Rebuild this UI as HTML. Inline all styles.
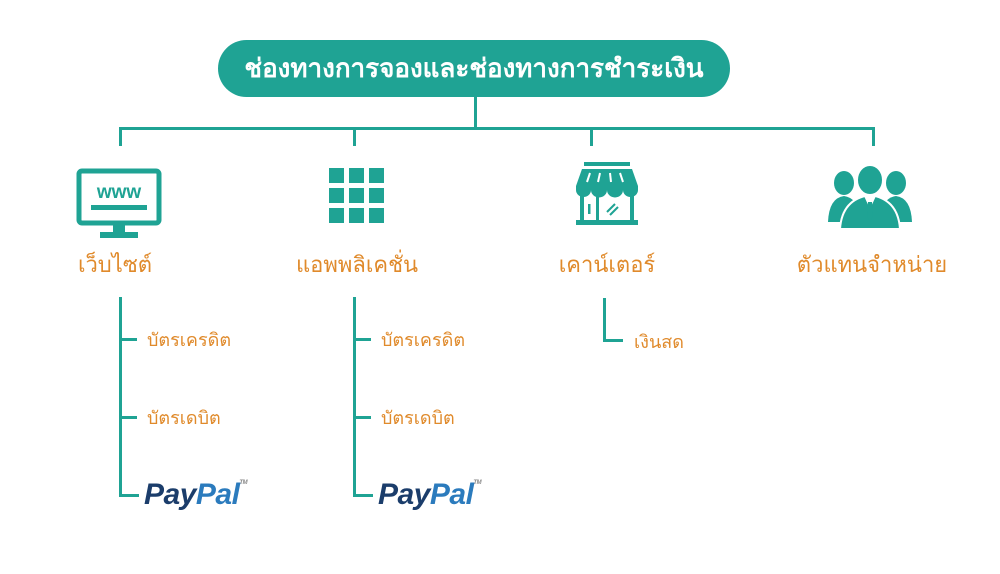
<!DOCTYPE html>
<html><head><meta charset="utf-8"><style>
html,body{margin:0;padding:0;background:#fff;}
body{width:1000px;height:574px;position:relative;overflow:hidden;font-family:"Liberation Sans","Noto Sans CJK SC","WenQuanYi Zen Hei",sans-serif;}
.l{position:absolute;background:#1fa394;}
.t{position:absolute;color:#e08a2b;white-space:nowrap;}
.big{font-size:22px;top:247px;transform:translateX(-50%);}
.sm{font-size:18px;}
.pp{position:absolute;font-family:"Liberation Sans",sans-serif;font-weight:bold;font-style:italic;font-size:30px;letter-spacing:-0.5px;}
.pp .a{color:#1b3d6b}.pp .b{color:#2b7bbd}.pp sup{font-size:6px;color:#888;vertical-align:top;position:relative;top:2px;}
</style></head><body>
<div style="position:absolute;left:218px;top:40px;width:512px;height:57px;border-radius:29px;background:#1fa394;color:#fff;font-weight:bold;font-size:26px;text-align:center;line-height:57px;">ช่องทางการจองและช่องทางการชำระเงิน</div>
<div class="l" style="left:474px;top:97px;width:3px;height:33px"></div>
<div class="l" style="left:119px;top:127px;width:756px;height:3px"></div>
<div class="l" style="left:119px;top:127px;width:3px;height:19px"></div>
<div class="l" style="left:353px;top:127px;width:3px;height:19px"></div>
<div class="l" style="left:590px;top:127px;width:3px;height:19px"></div>
<div class="l" style="left:872px;top:127px;width:3px;height:19px"></div>

<svg style="position:absolute;left:76px;top:168px" width="88" height="72" viewBox="0 0 88 72">
<rect x="3" y="3" width="80" height="52" rx="3" fill="none" stroke="#1fa394" stroke-width="5"/>
<text x="43" y="30" font-family="Liberation Sans" font-weight="bold" font-size="19" fill="#1fa394" text-anchor="middle">www</text>
<rect x="15" y="37" width="56" height="5" fill="#1fa394"/>
<rect x="37" y="55" width="12" height="10" fill="#1fa394"/>
<rect x="24" y="64" width="38" height="6" fill="#1fa394"/>
</svg>
<svg style="position:absolute;left:329px;top:168px" width="56" height="56" viewBox="0 0 56 56" fill="#1fa394">
<rect x="0" y="0" width="15" height="15"/><rect x="20" y="0" width="15" height="15"/><rect x="40" y="0" width="15" height="15"/>
<rect x="0" y="20" width="15" height="15"/><rect x="20" y="20" width="15" height="15"/><rect x="40" y="20" width="15" height="15"/>
<rect x="0" y="40" width="15" height="15"/><rect x="20" y="40" width="15" height="15"/><rect x="40" y="40" width="15" height="15"/>
</svg>
<svg style="position:absolute;left:574px;top:162px" width="66" height="64" viewBox="0 0 66 64" fill="#1fa394">
<rect x="10" y="0" width="46" height="4"/>
<path d="M8 7 H58 L64 24 H2 Z"/>
<path d="M2 24 H64 V28 A7.5 7 0 0 1 49 28 A7.5 7 0 0 1 33 28 A7.5 7 0 0 1 17 28 A7.5 7 0 0 1 2 28 Z"/>
<g stroke="#fff" stroke-width="2"><line x1="16" y1="11" x2="13" y2="20"/><line x1="26" y1="11" x2="24" y2="20"/><line x1="36" y1="11" x2="37" y2="20"/><line x1="46" y1="11" x2="49" y2="20"/></g>
<rect x="6" y="33" width="4" height="27"/><rect x="56" y="33" width="4" height="27"/><rect x="22" y="33" width="3" height="27"/>
<rect x="2" y="58" width="62" height="5"/>
<rect x="14" y="42" width="2.5" height="10"/>
<g stroke="#1fa394" stroke-width="2"><line x1="33" y1="50" x2="41" y2="42"/><line x1="36" y1="53" x2="44" y2="45"/></g>
</svg>
<svg style="position:absolute;left:828px;top:164px" width="84" height="66" viewBox="0 0 84 66" fill="#1fa394">
<ellipse cx="16" cy="19" rx="10" ry="12"/><ellipse cx="68" cy="19" rx="10" ry="12"/>
<path d="M0 58 Q1 34 16 32 Q29 34 31 50 L31 58 Z"/><path d="M84 58 Q83 34 68 32 Q55 34 53 50 L53 58 Z"/>
<ellipse cx="42" cy="16" rx="13" ry="15" stroke="#fff" stroke-width="2"/>
<path d="M12 65 Q14 35 42 31 Q70 35 72 65 Z" stroke="#fff" stroke-width="2"/>
<path d="M36 32 L42 45 L48 32 Z" fill="#fff"/><path d="M40 38 L44 38 L45 53 L42 57 L39 53 Z"/>
</svg>

<div class="t big" style="left:115px">เว็บไซต์</div>
<div class="t big" style="left:357px">แอพพลิเคชั่น</div>
<div class="t big" style="left:607px">เคาน์เตอร์</div>
<div class="t big" style="left:872px">ตัวแทนจำหน่าย</div>

<div class="l" style="left:119px;top:297px;width:3px;height:200px"></div>
<div class="l" style="left:119px;top:338px;width:18px;height:3px"></div>
<div class="l" style="left:119px;top:416px;width:18px;height:3px"></div>
<div class="l" style="left:119px;top:494px;width:20px;height:3px"></div>
<div class="t sm" style="left:147px;top:325px">บัตรเครดิต</div>
<div class="t sm" style="left:147px;top:403px">บัตรเดบิต</div>
<div class="pp" style="left:144px;top:478px"><span class="a">Pay</span><span class="b">Pal</span><sup>TM</sup></div>

<div class="l" style="left:353px;top:297px;width:3px;height:200px"></div>
<div class="l" style="left:353px;top:338px;width:18px;height:3px"></div>
<div class="l" style="left:353px;top:416px;width:18px;height:3px"></div>
<div class="l" style="left:353px;top:494px;width:20px;height:3px"></div>
<div class="t sm" style="left:381px;top:325px">บัตรเครดิต</div>
<div class="t sm" style="left:381px;top:403px">บัตรเดบิต</div>
<div class="pp" style="left:378px;top:478px"><span class="a">Pay</span><span class="b">Pal</span><sup>TM</sup></div>

<div class="l" style="left:603px;top:298px;width:3px;height:44px"></div>
<div class="l" style="left:603px;top:339px;width:20px;height:3px"></div>
<div class="t sm" style="left:634px;top:327px">เงินสด</div>
</body></html>
